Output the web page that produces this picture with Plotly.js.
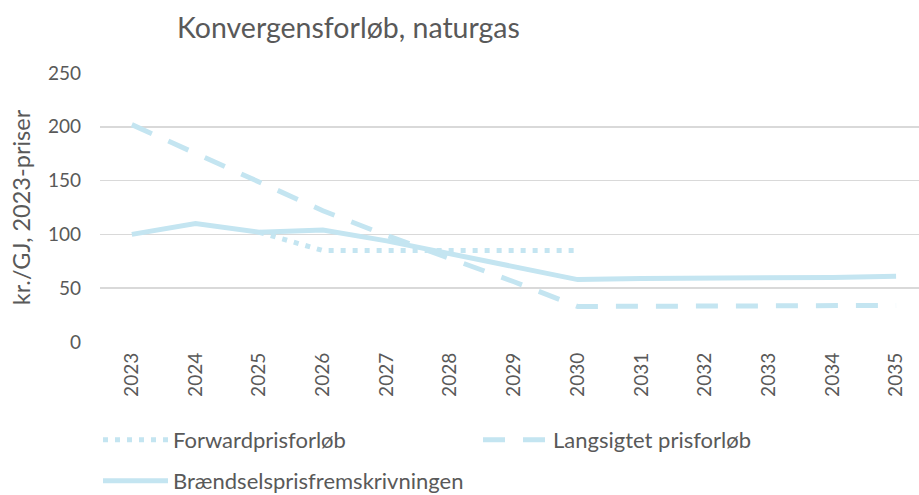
<!DOCTYPE html>
<html>
<head>
<meta charset="utf-8">
<script src="https://cdn.plot.ly/plotly-3.0.1.min.js"></script>
<style>html,body{margin:0;padding:0;background:#fff;}#chart{width:919px;height:495px;}</style>
</head>
<body>
<div id="chart"></div>
<script>
const years = ["2023","2024","2025","2026","2027","2028","2029","2030","2031","2032","2033","2034","2035"];
const forwardYears = ["2025","2026","2027","2028","2029","2030"];
const forward = [102, 85, 85, 85, 85, 85];
const langsigtet = [202, 175, 148, 122, 99, 78, 56, 33, 33, 33, 33, 33, 34];
const braendsel = [100, 110, 102, 104, 94, 82, 69, 58, 59, 59, 60, 60, 61];
const names = ["Forwardprisforløb", "Langsigtet prisforløb", "Brændselsprisfremskrivningen"];
const col = "#c4e5f1";
const font = "Lato, 'Open Sans', sans-serif";

const traces = [
  {x: forwardYears, y: forward, name: names[0], type: "scatter", mode: "lines",
   line: {color: col, width: 5, dash: "5px,7px"}, legend: "legend"},
  {x: years, y: langsigtet, name: names[1], type: "scatter", mode: "lines",
   line: {color: col, width: 5, dash: "22px,18px"}, legend: "legend"},
  {x: years, y: braendsel, name: names[2], type: "scatter", mode: "lines",
   line: {color: col, width: 5}, legend: "legend2"}
];

const layout = {
  width: 919, height: 495,
  margin: {l: 100, r: 0, t: 73, b: 153},
  paper_bgcolor: "#fff", plot_bgcolor: "#fff",
  font: {family: font, color: "#595959", size: 19},
  title: {text: "Konvergensforløb, naturgas", font: {size: 28.5, color: "#595959", family: font},
          xref: "container", yref: "container", x: 177/919, xanchor: "left", y: 1 - 28/495, yanchor: "middle"},
  xaxis: {type: "category", categoryorder: "array", categoryarray: years, range: [-0.5, 12.36],
          showgrid: false, zeroline: false, showline: false,
          ticks: "", tickangle: -90, tickfont: {size: 19, color: "#595959"}, ticklabelstandoff: 6},
  yaxis: {range: [0, 250], dtick: 50, showgrid: true, gridcolor: "#d9d9d9", gridwidth: 1.5,
          zeroline: false, showline: false, ticks: "", tickfont: {size: 19, color: "#595959"},
          ticklabelstandoff: 18,
          title: {text: "kr./GJ, 2023-priser", font: {size: 23.5, color: "#595959"}, standoff: 10}},
  showlegend: true,
  legend: {orientation: "h", xref: "container", yref: "container", x: 98/919, xanchor: "left",
           y: 1 - 440/495, yanchor: "middle", itemwidth: 65, entrywidth: 300, entrywidthmode: "pixels",
           font: {size: 22, color: "#595959"}, bgcolor: "rgba(0,0,0,0)"},
  legend2: {orientation: "h", xref: "container", yref: "container", x: 98/919, xanchor: "left",
           y: 1 - 481/495, yanchor: "middle", itemwidth: 65,
           font: {size: 22, color: "#595959"}, bgcolor: "rgba(0,0,0,0)"}
};
Plotly.newPlot("chart", traces, layout, {displayModeBar: false, staticPlot: true});
</script>
</body>
</html>
